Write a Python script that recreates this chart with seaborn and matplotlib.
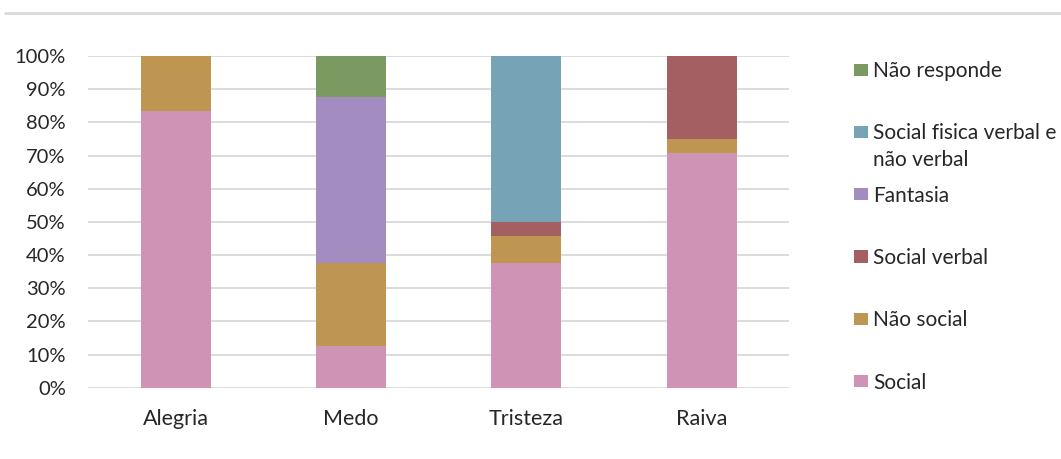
import numpy as np
import pandas as pd
import matplotlib.pyplot as plt
import seaborn as sns
from matplotlib.lines import Line2D
from matplotlib.ticker import PercentFormatter

# dados (percentagens por emoção)
emocoes = ["Alegria", "Medo", "Tristeza", "Raiva"]
social = [83.3, 12.5, 37.5, 70.8]
nao_social = [16.7, 25.0, 8.3, 4.2]
social_verbal = [0.0, 0.0, 4.2, 25.0]
fantasia = [0.0, 50.0, 0.0, 0.0]
social_fisica = [0.0, 0.0, 50.0, 0.0]
nao_responde = [0.0, 12.5, 0.0, 0.0]

series = ["Social", "Não social", "Social verbal", "Fantasia",
          "Social fisica verbal e", "Não responde"]
cores = ["#CF93B6", "#BE9652", "#A35F62", "#A28CC0", "#76A4B6", "#7B9A62"]

df = pd.DataFrame(
    {s: v for s, v in zip(series, [social, nao_social, social_verbal,
                                    fantasia, social_fisica, nao_responde])},
    index=emocoes,
)
cum = df.cumsum(axis=1)

sns.set_style("white")
plt.rcParams["font.family"] = ["Lato", "DejaVu Sans"]

fig = plt.figure(figsize=(10.61, 4.59), dpi=100)
ax = fig.add_axes([0.083, 0.155, 0.661, 0.723])

# barras empilhadas: desenha do topo para a base
for s, c in reversed(list(zip(series, cores))):
    sns.barplot(x=cum.index, y=cum[s].values, color=c, width=0.4,
                label=s, ax=ax, saturation=1, zorder=3, linewidth=0)

ax.set_ylim(0, 100)
ax.set_yticks(np.arange(0, 101, 10))
ax.yaxis.set_major_formatter(PercentFormatter(decimals=0))
ax.grid(axis="y", color="#D9D9D9", linewidth=1.3, zorder=0)
ax.set_axisbelow(True)
for sp in ax.spines.values():
    sp.set_visible(False)
ax.tick_params(axis="y", length=0, pad=16, labelsize=14.5, colors="#262626")
ax.tick_params(axis="x", length=0, pad=15, labelsize=15.5, colors="#262626")
ax.set_xlabel("")
ax.set_ylabel("")

h, l = ax.get_legend_handles_labels()
leg = ax.legend(h, l, loc="upper left", bbox_to_anchor=(0.797, 0.885),
                bbox_transform=fig.transFigure, frameon=False, fontsize=15,
                handlelength=0.67, handleheight=0.53, handletextpad=0.25,
                labelspacing=2.03, borderaxespad=0, labelcolor="#262626")

# segunda linha do rótulo "Social fisica verbal e não verbal"
fig.canvas.draw()
t = [tx for tx in leg.get_texts() if tx.get_text() == "Social fisica verbal e"][0]
bb = t.get_window_extent().transformed(fig.transFigure.inverted())
fig.text(bb.x0, bb.y0 - 0.057, "não verbal", fontsize=15, color="#262626",
         ha="left", va="bottom")

fig.add_artist(Line2D([0.005, 1.0], [0.972, 0.972], color="#D9D9D9",
                      linewidth=2, transform=fig.transFigure))

fig.savefig("out.png", dpi=100, facecolor="white")
